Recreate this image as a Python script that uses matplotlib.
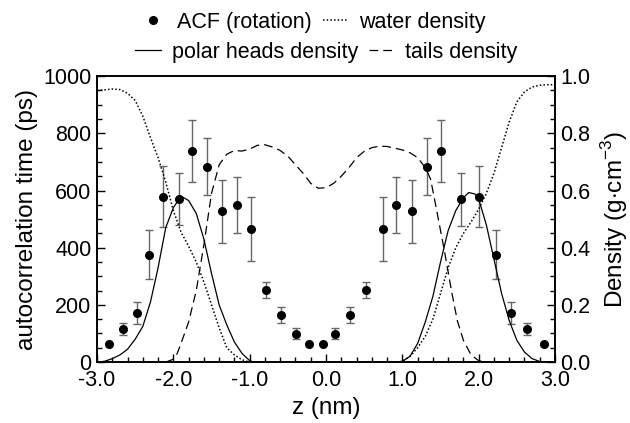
import numpy as np
import matplotlib
matplotlib.use("Agg")
import matplotlib.pyplot as plt
from matplotlib.ticker import MultipleLocator, FormatStrFormatter

# ================================
# DATA
# ================================

# rotational autocorrelation time (ps) with error bars
acf_z = [-2.84, -2.66, -2.48, -2.32, -2.13, -1.93, -1.75, -1.56, -1.36, -1.16,
         -0.98, -0.78, -0.59, -0.39, -0.22, -0.04, 0.12, 0.32, 0.53, 0.74,
         0.92, 1.12, 1.32, 1.51, 1.77, 2.01, 2.23, 2.42, 2.63, 2.85]
acf_val = [62, 115, 171, 376, 578, 570, 738, 683, 527, 550,
           465, 252, 163, 99, 62, 62, 99, 163, 252, 465,
           550, 527, 683, 738, 569, 578, 376, 171, 115, 62]
acf_err = [0, 20, 38, 85, 106, 92, 107, 100, 111, 97,
           111, 27, 28, 19, 0, 0, 19, 28, 27, 111,
           97, 111, 100, 107, 92, 106, 85, 38, 20, 0]

# water density (g/cm3)
water_z = [-3.0, -2.9, -2.8, -2.7, -2.6, -2.5, -2.4, -2.3, -2.2, -2.1, -2.0,
           -1.9, -1.8, -1.7, -1.6, -1.5, -1.4, -1.3, -1.2, -1.1, -1.0,
           0.95, 1.0, 1.1, 1.2, 1.3, 1.4, 1.5, 1.6, 1.7, 1.8, 1.9, 2.0,
           2.1, 2.2, 2.3, 2.4, 2.5, 2.6, 2.7, 2.8, 2.9, 3.0]
water_val = [0.95, 0.952, 0.955, 0.953, 0.94, 0.915, 0.86, 0.785, 0.715, 0.63, 0.53,
             0.455, 0.405, 0.35, 0.28, 0.2, 0.12, 0.05, 0.025, 0.008, 0.0,
             0.0, 0.003, 0.02, 0.05, 0.09, 0.15, 0.24, 0.33, 0.40, 0.45, 0.49, 0.535,
             0.59, 0.66, 0.75, 0.84, 0.91, 0.945, 0.962, 0.968, 0.97, 0.97]

# polar heads density
heads_z = [-3.0, -2.9, -2.8, -2.7, -2.6, -2.5, -2.4, -2.3, -2.2, -2.1, -2.0,
           -1.9, -1.8, -1.7, -1.6, -1.5, -1.4, -1.3, -1.2, -1.1, -1.0, -0.95,
           0.95, 1.0, 1.1, 1.2, 1.3, 1.4, 1.5, 1.6, 1.7, 1.8, 1.87, 1.95, 2.0,
           2.1, 2.2, 2.3, 2.4, 2.5, 2.6, 2.7, 2.8, 2.9, 3.0]
heads_val = [0.0, 0.003, 0.012, 0.025, 0.045, 0.08, 0.125, 0.21, 0.33, 0.47, 0.54,
             0.58, 0.565, 0.52, 0.43, 0.31, 0.2, 0.13, 0.07, 0.03, 0.005, 0.0,
             0.0, 0.003, 0.02, 0.065, 0.14, 0.23, 0.35, 0.46, 0.53, 0.575, 0.593, 0.588, 0.57,
             0.48, 0.36, 0.24, 0.145, 0.076, 0.035, 0.012, 0.002, 0.0, 0.0]

# tails density
tails_z = [-2.1, -2.0, -1.95, -1.9, -1.8, -1.7, -1.6, -1.5, -1.4, -1.3, -1.2,
           -1.1, -1.0, -0.9, -0.8, -0.7, -0.6, -0.5, -0.4, -0.3, -0.2, -0.1,
           0.0, 0.1, 0.2, 0.3, 0.4, 0.5, 0.6, 0.7, 0.8, 0.9, 1.0, 1.1, 1.2,
           1.3, 1.37, 1.45, 1.55, 1.65, 1.72, 1.8, 1.9, 2.0, 2.1]
tails_val = [0.0, 0.01, 0.03, 0.065, 0.14, 0.25, 0.41, 0.59, 0.69, 0.727, 0.74,
             0.738, 0.745, 0.758, 0.76, 0.752, 0.74, 0.72, 0.69, 0.66, 0.625, 0.608,
             0.61, 0.625, 0.65, 0.68, 0.715, 0.737, 0.75, 0.755, 0.754, 0.748, 0.742, 0.732, 0.715,
             0.68, 0.64, 0.53, 0.39, 0.24, 0.145, 0.076, 0.025, 0.005, 0.0]

# ================================
# PLOT
# ================================

plt.rcParams["font.family"] = ["Liberation Sans", "DejaVu Sans"]
plt.rcParams["mathtext.fontset"] = "custom"
plt.rcParams["mathtext.rm"] = "Liberation Sans"
plt.rcParams["axes.unicode_minus"] = False

fig = plt.figure(figsize=(6.3, 4.23), dpi=100)
ax1 = fig.add_axes([0.154, 0.144, 0.727, 0.676])
ax2 = ax1.twinx()

ax1.errorbar(acf_z, acf_val, yerr=acf_err, fmt="none", ecolor="0.4",
             elinewidth=1, capsize=3, capthick=1)
acf_line, = ax1.plot(acf_z, acf_val, "o", color="black", markersize=5.5)

water_line, = ax2.plot(water_z, water_val, color="black", lw=1.1, dashes=(1, 1.4))
heads_line, = ax2.plot(heads_z, heads_val, "-", color="black", lw=0.9)
tails_line, = ax2.plot(tails_z, tails_val, color="black", lw=0.9, dashes=(7, 4))

ax1.set_xlim(-3.0, 3.0)
ax1.set_ylim(0, 1000)
ax2.set_ylim(0, 1.0)

ax1.xaxis.set_major_locator(MultipleLocator(1.0))
ax1.xaxis.set_minor_locator(MultipleLocator(0.2))
ax1.xaxis.set_major_formatter(FormatStrFormatter("%.1f"))
ax1.yaxis.set_major_locator(MultipleLocator(200))
ax1.yaxis.set_minor_locator(MultipleLocator(50))
ax2.yaxis.set_major_locator(MultipleLocator(0.2))
ax2.yaxis.set_minor_locator(MultipleLocator(0.05))
ax2.yaxis.set_major_formatter(FormatStrFormatter("%.1f"))

for ax in (ax1, ax2):
    ax.tick_params(which="both", direction="in", labelsize=15.5, width=1, top=False)
    ax.tick_params(which="major", length=6)
    ax.tick_params(which="minor", length=3.5)
    for sp in ax.spines.values():
        sp.set_linewidth(1.2)
ax1.tick_params(axis="y", right=False, pad=4)
ax1.tick_params(axis="x", pad=6)
ax2.tick_params(axis="y", left=False, pad=4)

ax1.set_xlabel("z (nm)", fontsize=17.5, labelpad=4)
ax1.set_ylabel("autocorrelation time (ps)", fontsize=17.5, labelpad=4)
ax2.set_ylabel("Density (g$\\cdot$cm$^{-3}$)", fontsize=17.5, labelpad=6)

# two legend rows above the axes
leg1 = fig.legend([acf_line, water_line], ["ACF (rotation)", "water density"],
                  loc="center", bbox_to_anchor=(0.497, 0.947), ncol=2, frameon=False,
                  fontsize=15.5, handlelength=1.2, handletextpad=0.5, columnspacing=0.5)
leg2 = fig.legend([heads_line, tails_line], ["polar heads density", "tails density"],
                  loc="center", bbox_to_anchor=(0.518, 0.877), ncol=2, frameon=False,
                  fontsize=15.5, handlelength=1.2, handletextpad=0.5, columnspacing=0.5)

fig.savefig("out.png", dpi=100)
